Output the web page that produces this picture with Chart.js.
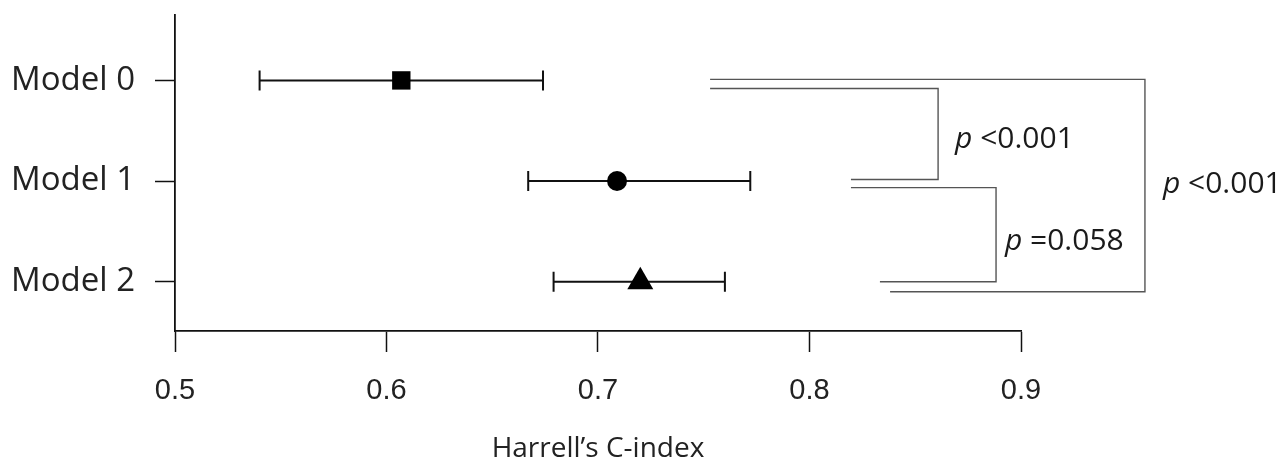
<!DOCTYPE html>
<html lang="en">

<head>
    <meta charset="UTF-8">
    <title>Harrell's C-index</title>
    <style>
        html, body { margin: 0; padding: 0; background: #fff; }
        .wrap { width: 1286px; height: 460px; position: relative; }
    </style>
</head>

<body>
    <div class="wrap">
        <canvas id="cindex"></canvas>
    </div>
    <script src="https://cdn.jsdelivr.net/npm/chart.js"></script>
    <script>
        const models = ['Model 0', 'Model 1', 'Model 2'];
        const cIndex = [0.607, 0.709, 0.720];
        const ciLow = [0.540, 0.667, 0.679];
        const ciHigh = [0.674, 0.772, 0.760];
        const xTicks = [0.5, 0.6, 0.7, 0.8, 0.9];
        const pLabels = ['<0.001', '=0.058', '<0.001'];

        const FONT = '"Open Sans", Lato, sans-serif';
        const NUMFONT = '"Liberation Sans", Arial, sans-serif';

        // comparison brackets, in data units (x = C-index, y = model row)
        const brackets = [
            [[0.753, -0.01], [0.9586, -0.01], [0.9586, 2.1], [0.8381, 2.1]],
            [[0.753, 0.08], [0.8608, 0.08], [0.8608, 0.985], [0.8196, 0.985]],
            [[0.8196, 1.065], [0.8882, 1.065], [0.8882, 2.0], [0.8333, 2.0]]
        ];
        const pPos = [[0.8688, 0.59], [0.8924, 1.6], [0.9671, 1.03]];

        const errorBars = {
            id: 'errorBars',
            beforeDatasetsDraw(chart) {
                const { ctx, scales: { x, y } } = chart;
                ctx.save();
                ctx.strokeStyle = '#111';
                ctx.lineWidth = 2;
                cIndex.forEach(function (v, i) {
                    const yy = y.getPixelForValue(i);
                    const x1 = x.getPixelForValue(ciLow[i]);
                    const x2 = x.getPixelForValue(ciHigh[i]);
                    ctx.beginPath();
                    ctx.moveTo(x1, yy); ctx.lineTo(x2, yy);
                    ctx.moveTo(x1, yy - 10); ctx.lineTo(x1, yy + 10);
                    ctx.moveTo(x2, yy - 10); ctx.lineTo(x2, yy + 10);
                    ctx.stroke();
                });
                ctx.restore();
            },
            afterDraw(chart) {
                const { ctx, scales: { x, y } } = chart;
                ctx.save();
                ctx.strokeStyle = '#555';
                ctx.lineWidth = 1.4;
                brackets.forEach(function (pts) {
                    ctx.beginPath();
                    pts.forEach(function (p, k) {
                        const px = x.getPixelForValue(p[0]);
                        const py = y.getPixelForValue(p[1]);
                        if (k === 0) ctx.moveTo(px, py); else ctx.lineTo(px, py);
                    });
                    ctx.stroke();
                });
                ctx.fillStyle = '#1a1a1a';
                ctx.textBaseline = 'middle';
                ctx.textAlign = 'left';
                pLabels.forEach(function (t, i) {
                    const px = x.getPixelForValue(pPos[i][0]);
                    const py = y.getPixelForValue(pPos[i][1]);
                    ctx.font = 'italic 30px ' + FONT;
                    ctx.fillText('p', px, py);
                    const w = ctx.measureText('p ').width;
                    ctx.font = '30px ' + FONT;
                    ctx.fillText(t, px + w, py);
                });
                ctx.restore();
            }
        };

        new Chart(document.getElementById('cindex'), {
            type: 'scatter',
            data: {
                datasets: [{
                    data: cIndex.map(function (v, i) { return { x: v, y: i }; }),
                    pointStyle: ['rect', 'circle', 'triangle'],
                    pointRadius: [13, 10, 15],
                    pointHoverRadius: [13, 10, 15],
                    backgroundColor: '#000',
                    borderColor: '#000',
                    borderWidth: 0
                }]
            },
            options: {
                responsive: true,
                maintainAspectRatio: false,
                animation: false,
                events: [],
                layout: { padding: { left: 0, right: 265, top: 10, bottom: 0 } },
                plugins: {
                    legend: { display: false },
                    tooltip: { enabled: false }
                },
                scales: {
                    x: {
                        type: 'linear',
                        min: 0.5,
                        max: 0.9,
                        afterBuildTicks(scale) {
                            scale.ticks = xTicks.map(function (v) { return { value: v }; });
                        },
                        afterFit(scale) {
                            scale.height = 129;
                            scale.paddingLeft = 0;
                            scale.paddingRight = 0;
                        },
                        ticks: {
                            color: '#222',
                            font: { family: NUMFONT, size: 29 },
                            padding: 22,
                            maxRotation: 0,
                            callback: function (v) { return v.toFixed(1); }
                        },
                        grid: {
                            drawOnChartArea: false,
                            tickLength: 21,
                            tickWidth: 1.5,
                            tickColor: '#111'
                        },
                        border: { color: '#111', width: 1.8 },
                        title: {
                            display: true,
                            text: 'Harrell\u2019s C-index',
                            color: '#222',
                            font: { family: FONT, size: 28, lineHeight: 0.8 },
                            padding: { top: 0, bottom: 0 }
                        }
                    },
                    y: {
                        type: 'linear',
                        reverse: true,
                        min: -0.65,
                        max: 2.49,
                        afterBuildTicks(scale) {
                            scale.ticks = models.map(function (m, i) { return { value: i }; });
                        },
                        afterFit(scale) {
                            scale.width = 175;
                            scale.paddingTop = 0;
                            scale.paddingBottom = 0;
                        },
                        ticks: {
                            color: '#222',
                            font: { family: FONT, size: 33 },
                            padding: 20,
                            callback: function (v) { return models[v]; }
                        },
                        grid: {
                            drawOnChartArea: false,
                            tickLength: 20,
                            tickWidth: 1.5,
                            tickColor: '#111'
                        },
                        border: { color: '#111', width: 1.8 }
                    }
                }
            },
            plugins: [errorBars]
        });
    </script>
</body>

</html>
